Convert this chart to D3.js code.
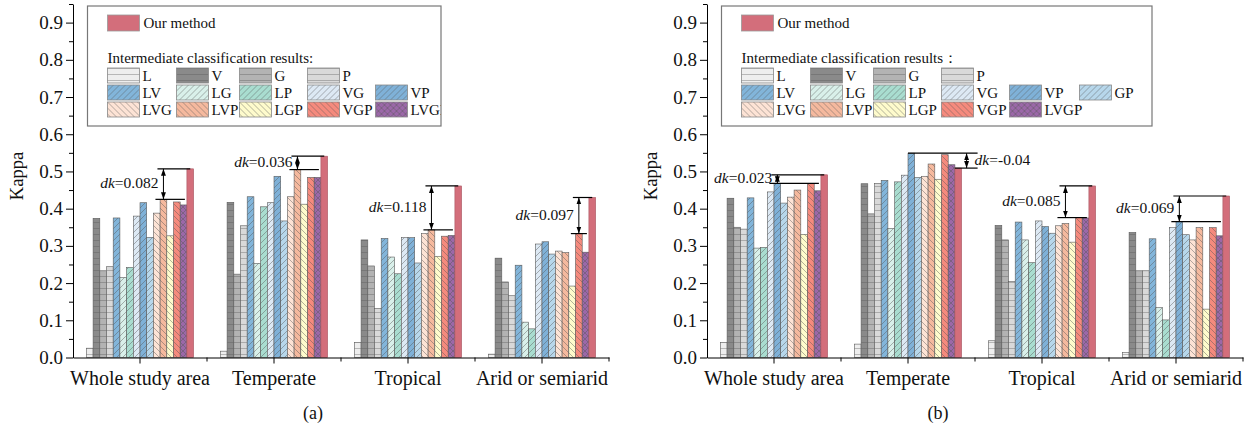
<!DOCTYPE html>
<html>
<head>
<meta charset="utf-8">
<script src="https://cdn.jsdelivr.net/npm/d3@7"></script>
<style>
  body { margin: 0; background: #fff; }
  svg, text { font-family: "Liberation Serif", "Times New Roman", serif; fill: #111; }
</style>
</head>
<body>
<script>
// categories and series
var categories = ["Whole study area", "Temperate", "Tropical", "Arid or semiarid"];
var series = ["L", "V", "G", "P", "LV", "LG", "LP", "VG", "VP", "GP",
              "LVG", "LVP", "LGP", "VGP", "LVGP", "Our method"];
var colors = ["#eeeeee", "#8a8a8a", "#b3b3b3", "#d9d9d9", "#82b5da", "#d9f0ea", "#a9ddd0", "#dde9f4",
              "#7fb1d8", "#b7d7eb", "#fde3d5", "#f5b99e", "#fefbcc", "#f58a7d", "#9b68a8", "#d36e7b"];
var yTicks = [0, 0.1, 0.2, 0.3, 0.4, 0.5, 0.6, 0.7, 0.8, 0.9];

// (a) kappa per category, same order as series
var wholeA     = [0.025, 0.374, 0.233, 0.244, 0.375, 0.215, 0.242, 0.380, 0.416, 0.323, 0.388, 0.425, 0.327, 0.418, 0.410, 0.507];
var temperateA = [0.017, 0.417, 0.224, 0.354, 0.432, 0.253, 0.405, 0.416, 0.487, 0.367, 0.432, 0.505, 0.412, 0.484, 0.484, 0.541];
var tropicalA  = [0.040, 0.316, 0.246, 0.132, 0.320, 0.270, 0.225, 0.322, 0.322, 0.254, 0.333, 0.343, 0.272, 0.326, 0.328, 0.461];
var aridA      = [0.009, 0.267, 0.203, 0.166, 0.248, 0.095, 0.077, 0.305, 0.311, 0.278, 0.286, 0.282, 0.192, 0.333, 0.283, 0.430];
var dkA = [0.082, 0.036, 0.118, 0.097];
var dkAnchorA = ["LVP", "LVP", "LVP", "VGP"];

// (b)
var wholeB     = [0.040, 0.428, 0.350, 0.345, 0.429, 0.294, 0.296, 0.445, 0.468, 0.415, 0.431, 0.450, 0.331, 0.467, 0.448, 0.491];
var temperateB = [0.036, 0.467, 0.386, 0.468, 0.476, 0.347, 0.472, 0.490, 0.549, 0.484, 0.487, 0.520, 0.479, 0.545, 0.518, 0.509];
var tropicalB  = [0.045, 0.355, 0.316, 0.204, 0.364, 0.316, 0.255, 0.367, 0.352, 0.334, 0.354, 0.360, 0.310, 0.376, 0.375, 0.461];
var aridB      = [0.013, 0.336, 0.233, 0.233, 0.319, 0.134, 0.101, 0.349, 0.365, 0.330, 0.316, 0.349, 0.130, 0.349, 0.327, 0.434];
var dkB = [0.023, -0.04, 0.085, 0.069];
var dkAnchorB = ["VP", "VP", "LVP", "VP"];

var legendRows = [["L", "V", "G", "P"], ["LV", "LG", "LP", "VG", "VP", "GP"], ["LVG", "LVP", "LGP", "VGP", "LVGP"]];

var serif = "Liberation Serif, Times New Roman, serif";

var svg = d3.select("body")
  .append("svg")
  .attr("width", 1251)
  .attr("height", 434);

var defs = svg.append("defs");

// hatch style by series name
function hatchType(s) {
  if (s === "Our method") return null;
  if (s === "LVGP") return "x";
  if (s.length === 1) return "h";
  if (s.length === 2) return "f";
  return "b";
}

series.forEach(function(s, i) {
  var t = hatchType(s);
  if (!t) return;
  var w = t === "h" ? 8 : 6, h = 6;
  var p = defs.append("pattern")
    .attr("id", "pat-" + s)
    .attr("patternUnits", "userSpaceOnUse")
    .attr("width", w)
    .attr("height", h);
  p.append("rect").attr("width", w).attr("height", h).attr("fill", colors[i]);
  var d;
  if (t === "h") d = "M0,0.5 L8,0.5";
  else if (t === "f") d = "M0,6 L6,0 M-1.5,1.5 L1.5,-1.5 M4.5,7.5 L7.5,4.5";
  else if (t === "b") d = "M0,0 L6,6 M-1.5,4.5 L1.5,7.5 M4.5,-1.5 L7.5,1.5";
  else d = "M0,6 L6,0 M-1.5,1.5 L1.5,-1.5 M4.5,7.5 L7.5,4.5 M0,0 L6,6 M-1.5,4.5 L1.5,7.5 M4.5,-1.5 L7.5,1.5";
  p.append("path")
    .attr("d", d)
    .attr("stroke", "#555")
    .attr("stroke-opacity", t === "h" ? 0.6 : 0.75)
    .attr("stroke-width", 0.6)
    .attr("fill", "none");
});

defs.append("marker")
  .attr("id", "arrow")
  .attr("viewBox", "0 0 10 10")
  .attr("refX", 10)
  .attr("refY", 5)
  .attr("markerUnits", "userSpaceOnUse")
  .attr("markerWidth", 7)
  .attr("markerHeight", 7)
  .attr("orient", "auto-start-reverse")
  .append("path")
  .attr("d", "M0,1.5 L10,5 L0,8.5 z")
  .attr("fill", "#000");

function fillOf(s) {
  var i = series.indexOf(s);
  return hatchType(s) ? "url(#pat-" + s + ")" : colors[i];
}

var y = d3.scaleLinear().domain([0, 0.95]).range([357.5, 4]);

function drawPanel(x0, panelData, dks, anchors, colon, boxRight, tag, tagX) {
  var g = svg.append("g");

  var x = d3.scaleBand()
    .domain(categories)
    .range([x0, x0 + 536])
    .paddingInner(0.2)
    .paddingOuter(0.1);

  var xs = d3.scaleBand()
    .domain(series)
    .range([0, x.bandwidth()]);

  // bars
  categories.forEach(function(c, ci) {
    g.append("g")
      .selectAll("rect")
      .data(panelData[ci])
      .enter()
      .append("rect")
      .attr("x", (d, i) => x(c) + xs(series[i]))
      .attr("y", d => y(d))
      .attr("width", xs.bandwidth())
      .attr("height", d => y(0) - y(d))
      .attr("fill", (d, i) => fillOf(series[i]))
      .attr("stroke", (d, i) => i === 15 ? "#a85560" : "#5a5a5a")
      .attr("stroke-width", 0.6);
  });

  // y axis (minor ticks first)
  g.append("g")
    .attr("transform", `translate(${x0}, 0)`)
    .call(d3.axisLeft(y).tickValues(yTicks.map(v => v + 0.05)).tickSize(4).tickFormat(""))
    .call(a => a.select(".domain").remove());

  var yAxis = g.append("g")
    .attr("transform", `translate(${x0}, 0)`)
    .call(d3.axisLeft(y).tickValues(yTicks).tickSize(7).tickSizeOuter(0).tickPadding(3).tickFormat(d3.format(".1f")));
  yAxis.attr("font-family", serif).attr("font-size", 19);

  // x axis
  var xAxis = g.append("g")
    .attr("transform", `translate(0, ${y(0)})`)
    .call(d3.axisBottom(x).tickSize(6).tickSizeOuter(0).tickPadding(7));
  xAxis.attr("font-family", serif).attr("font-size", 20);

  // minor ticks between groups
  g.append("g")
    .selectAll("line")
    .data(categories)
    .enter()
    .append("line")
    .attr("x1", c => x(c) + x.bandwidth() / 2 + x.step() / 2)
    .attr("x2", c => x(c) + x.bandwidth() / 2 + x.step() / 2)
    .attr("y1", y(0))
    .attr("y2", y(0) + 4)
    .attr("stroke", "#000");

  g.selectAll(".domain, .tick line").attr("stroke", "#000");

  // Kappa label
  g.append("text")
    .attr("transform", `translate(${x0 - 54}, 176) rotate(-90)`)
    .attr("text-anchor", "middle")
    .attr("dominant-baseline", "middle")
    .style("font-size", "18.5px")
    .text("Kappa");

  // dk annotations
  categories.forEach(function(c, ci) {
    var vals = panelData[ci];
    var ours = vals[15];
    var best = d3.max(vals.slice(0, 15));
    var ourLeft = x(c) + xs("Our method");
    var ourRight = ourLeft + xs.bandwidth();
    var a = g.append("g");
    var label = a.append("text")
      .style("font-size", "15.5px")
      .attr("dominant-baseline", "middle");
    label.append("tspan").style("font-style", "italic").text("dk");
    label.append("tspan").text("=" + dks[ci]);

    if (dks[ci] >= 0) {
      var ax = x(c) + xs(anchors[ci]) + xs.bandwidth() / 2;
      a.append("line").attr("x1", ax - 6).attr("x2", ourLeft + xs.bandwidth() / 2)
        .attr("y1", y(ours)).attr("y2", y(ours)).attr("stroke", "#000").attr("stroke-width", 1.2);
      a.append("line").attr("x1", ax - 8).attr("x2", ourLeft - 2)
        .attr("y1", y(best)).attr("y2", y(best)).attr("stroke", "#000").attr("stroke-width", 1.2);
      a.append("line").attr("x1", ax).attr("x2", ax)
        .attr("y1", y(best)).attr("y2", y(ours))
        .attr("stroke", "#000").attr("stroke-width", 1)
        .attr("marker-start", "url(#arrow)").attr("marker-end", "url(#arrow)");
      label.attr("x", ax - 5).attr("y", (y(best) + y(ours)) / 2).attr("text-anchor", "end");
    } else {
      var bx = x(c) + xs(anchors[ci]);
      var ex = ourRight + 16;
      var axr = ourRight + 5;
      a.append("line").attr("x1", bx).attr("x2", ex)
        .attr("y1", y(best)).attr("y2", y(best)).attr("stroke", "#000").attr("stroke-width", 1.2);
      a.append("line").attr("x1", ourLeft).attr("x2", ex)
        .attr("y1", y(ours)).attr("y2", y(ours)).attr("stroke", "#000").attr("stroke-width", 1.2);
      a.append("line").attr("x1", axr).attr("x2", axr)
        .attr("y1", y(ours)).attr("y2", y(best))
        .attr("stroke", "#000").attr("stroke-width", 1)
        .attr("marker-start", "url(#arrow)").attr("marker-end", "url(#arrow)");
      label.attr("x", ourRight + 13).attr("y", (y(best) + y(ours)) / 2).attr("text-anchor", "start");
    }
  });

  // legend box, clipped like the original
  var bx0 = x0 + 14.5;
  var clipId = "clip-" + tag.replace(/[()]/g, "");
  defs.append("clipPath").attr("id", clipId)
    .append("rect").attr("x", bx0).attr("y", 6).attr("width", boxRight - bx0).attr("height", 120);

  var leg = g.append("g");
  leg.append("rect")
    .attr("x", bx0).attr("y", 6)
    .attr("width", boxRight - bx0).attr("height", 120)
    .attr("fill", "#fff")
    .attr("stroke", "#777")
    .attr("stroke-width", 1.2);

  var lg = leg.append("g").attr("clip-path", `url(#${clipId})`);
  var sx = bx0 + 20;
  var colOffsets = [0, 69, 132, 200, 268, 338];

  lg.append("rect").attr("x", sx).attr("y", 15).attr("width", 32).attr("height", 16)
    .attr("fill", fillOf("Our method")).attr("stroke", "#999").attr("stroke-width", 0.8);
  lg.append("text").attr("x", sx + 36).attr("y", 28).style("font-size", "15px").text("Our method");
  lg.append("text").attr("x", sx).attr("y", 63).style("font-size", "15px")
    .text("Intermediate classification results" + colon);

  legendRows.forEach(function(row, ri) {
    var items = lg.append("g")
      .selectAll("g")
      .data(row)
      .enter()
      .append("g")
      .attr("transform", (d, i) => `translate(${sx + colOffsets[i]}, ${68 + ri * 17})`);
    items.append("rect")
      .attr("width", 32).attr("height", 15)
      .attr("fill", d => fillOf(d))
      .attr("stroke", "#888").attr("stroke-width", 0.8);
    items.append("text")
      .attr("x", 35).attr("y", 13)
      .style("font-size", "15px")
      .text(d => d);
  });

  svg.append("text")
    .attr("x", tagX).attr("y", 419)
    .attr("text-anchor", "middle")
    .style("font-size", "18px")
    .text(tag);
}

drawPanel(73, [wholeA, temperateA, tropicalA, aridA], dkA, dkAnchorA, ":", 441, "(a)", 313);
drawPanel(707, [wholeB, temperateB, tropicalB, aridB], dkB, dkAnchorB, "：", 1152, "(b)", 938);
</script>
</body>
</html>
